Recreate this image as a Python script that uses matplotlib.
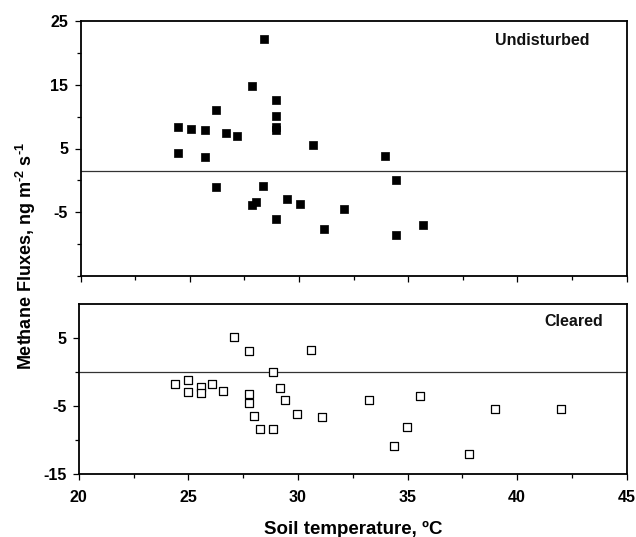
import matplotlib
matplotlib.use("Agg")
import matplotlib.pyplot as plt
from matplotlib.ticker import MultipleLocator, FixedLocator, NullFormatter

plt.rcParams['font.family'] = ['Liberation Sans', 'DejaVu Sans']
plt.rcParams['font.weight'] = 'bold'
plt.rcParams['mathtext.fontset'] = 'custom'
plt.rcParams['mathtext.rm'] = 'Liberation Sans:bold'
plt.rcParams['mathtext.bf'] = 'Liberation Sans:bold'
plt.rcParams['mathtext.default'] = 'bf'
plt.rcParams['axes.unicode_minus'] = False

# Undisturbed
und_temp = [24.45, 25.08, 25.68, 26.18, 26.68, 27.18, 28.41, 27.87, 28.96, 28.96,
            28.96, 28.96, 30.65, 24.45, 25.68, 26.18, 28.37, 27.87, 28.05, 29.46,
            30.04, 28.96, 31.15, 32.06, 33.93, 34.43, 35.66, 34.43]
und_flux = [8.3, 8.07, 7.9, 11.05, 7.4, 6.93, 22.1, 14.76, 12.57, 10.1,
            8.3, 7.9, 5.5, 4.26, 3.64, -1.07, -0.9, -3.9, -3.4, -2.95,
            -3.7, -6.1, -7.65, -4.47, 3.79, 0.03, -7.0, -8.6]
und_ref = 1.5

# Cleared
clr_temp = [27.08, 27.78, 30.59, 28.88, 24.37, 24.97, 24.97, 25.57, 25.57, 26.07,
            26.6, 27.78, 27.78, 29.16, 29.39, 27.98, 29.97, 31.11, 28.26, 28.88,
            33.26, 35.59, 39.0, 41.99, 34.98, 34.39, 37.79]
clr_flux = [5.1, 3.1, 3.25, 0.04, -1.7, -1.17, -2.96, -2.23, -3.06, -1.7,
            -2.8, -3.16, -4.52, -2.29, -4.08, -6.5, -6.12, -6.56, -8.3, -8.4,
            -4.04, -3.45, -5.4, -5.4, -8.0, -10.8, -11.95]
clr_ref = 0.0

W, H = 636, 537
fig = plt.figure(figsize=(W / 100, H / 100), dpi=100)

ax1 = fig.add_axes([80.5 / W, 1 - 276 / H, (626.7 - 80.5) / W, (276 - 21) / H])
ax2 = fig.add_axes([78.8 / W, 1 - 474.3 / H, (626.7 - 78.8) / W, (474.3 - 304) / H])

ax1.scatter(und_temp, und_flux, marker='s', s=26, c='black', edgecolors='black',
            linewidths=0.5, zorder=3)
ax1.axhline(und_ref, color='#333333', lw=0.9, zorder=2)
ax1.set_xlim(20, 45)
ax1.set_ylim(-15, 25)
ax1.yaxis.set_major_locator(FixedLocator([25, 15, 5, -5]))
ax1.yaxis.set_minor_locator(FixedLocator([20, 10, 0, -10, -15]))
ax1.xaxis.set_major_locator(MultipleLocator(5))
ax1.xaxis.set_minor_locator(MultipleLocator(2.5))
ax1.xaxis.set_major_formatter(NullFormatter())

ax2.scatter(clr_temp, clr_flux, marker='s', s=30, facecolors='white', edgecolors='black',
            linewidths=0.9, zorder=3)
ax2.axhline(clr_ref, color='#333333', lw=0.9, zorder=2)
ax2.set_xlim(20, 45)
ax2.set_ylim(-15, 10)
ax2.yaxis.set_major_locator(FixedLocator([5, -5, -15]))
ax2.yaxis.set_minor_locator(FixedLocator([0, -10]))
ax2.xaxis.set_major_locator(MultipleLocator(5))
ax2.xaxis.set_minor_locator(MultipleLocator(2.5))

for ax in (ax1, ax2):
    for sp in ax.spines.values():
        sp.set_linewidth(1.3)
        sp.set_color('black')
    ax.tick_params(which='both', direction='out', width=0.9, color='black')
    ax.tick_params(which='major', length=4, labelsize=11.5, pad=5)
    ax.tick_params(which='minor', length=3)
    ax.tick_params(axis='x', which='major', pad=7)
    for lab in ax.get_xticklabels() + ax.get_yticklabels():
        lab.set_fontweight('bold')

fig.text(589 / W, 1 - 40.7 / H, 'Undisturbed', fontsize=11.5, fontweight='bold',
         ha='right', va='center', color='#111111')
fig.text(603 / W, 1 - 321.7 / H, 'Cleared', fontsize=11.5, fontweight='bold',
         ha='right', va='center', color='#111111')

fig.text(26 / W, 1 - 256 / H, 'Methane Fluxes, ng m$^{\\text{-2}}$ s$^{\\text{-1}}$',
         rotation=90, fontsize=13, fontweight='bold', ha='center', va='center')
fig.text(353 / W, 1 - 529 / H, 'Soil temperature, ºC', fontsize=13.5,
         fontweight='bold', ha='center', va='center')

fig.savefig('out.png', dpi=100)
